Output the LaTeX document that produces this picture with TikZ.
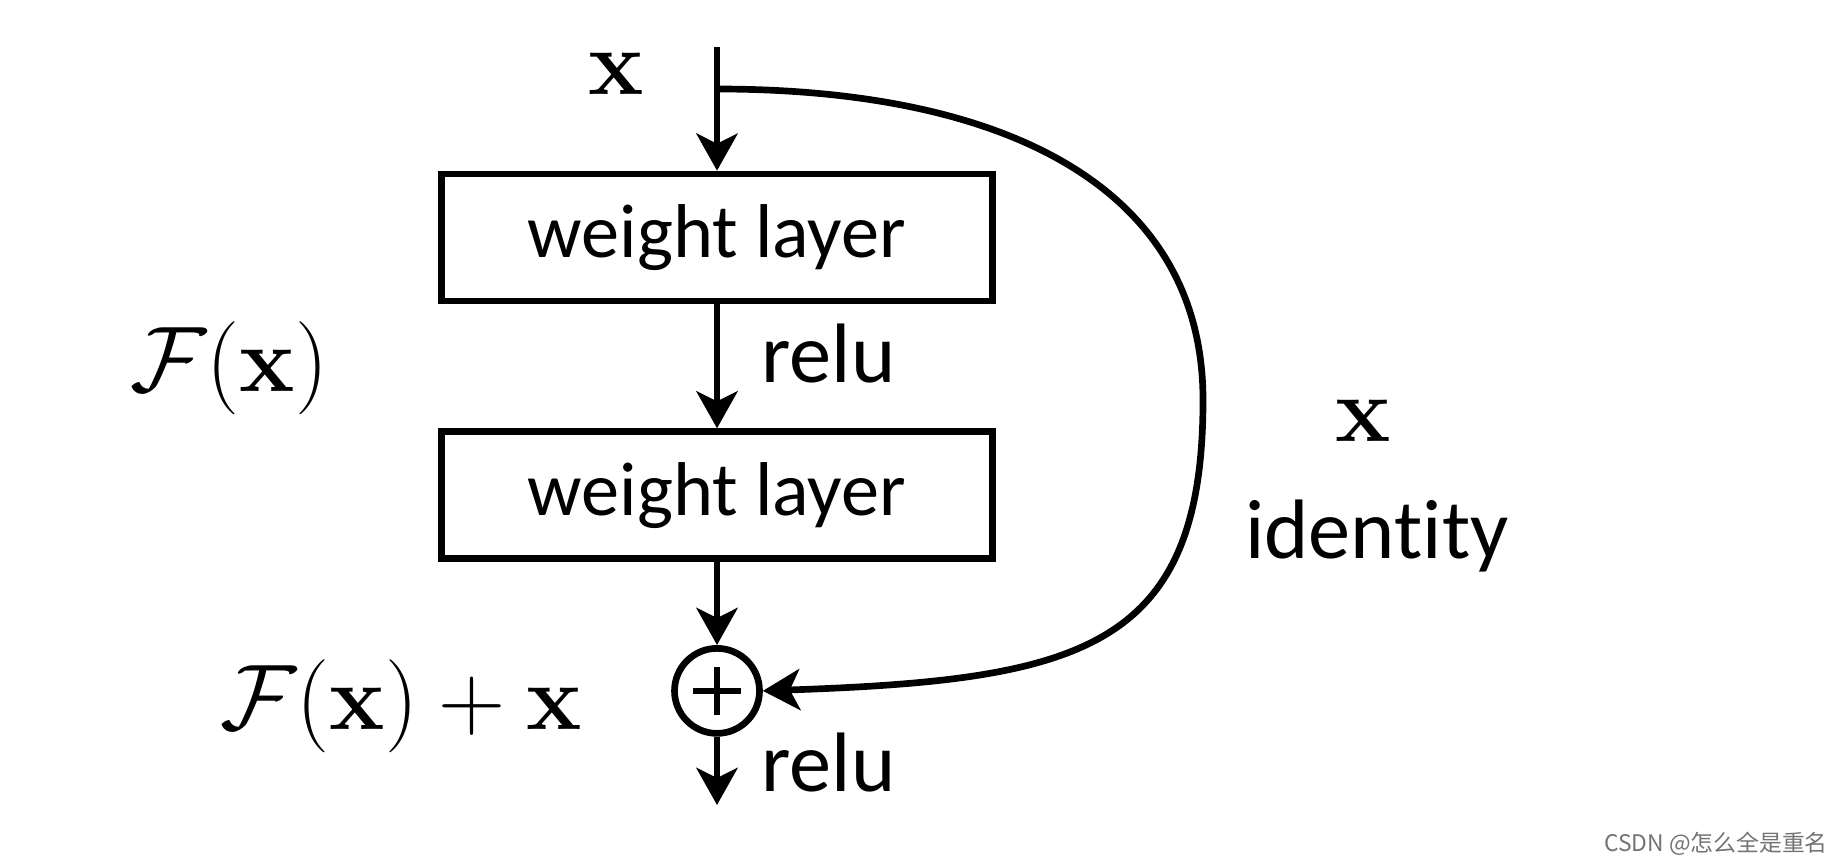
\documentclass[tikz,border=0pt]{standalone}
\usepackage{xcolor}
\usepackage{amsmath}
\usepackage[no-math]{fontspec}
\usepackage{tikz}
\usetikzlibrary{arrows.meta, positioning, calc}
\newfontfamily\calibri[Ligatures=NoCommon]{Carlito}
\newfontfamily\cjk{Noto Sans CJK SC}

\begin{document}
\begin{tikzpicture}[
    line width=1.9pt,
    >={Stealth[length=3.7mm,width=4.1mm,inset=1mm]},
    layer/.style={draw, rectangle, minimum width=5.51cm, minimum height=1.27cm,
                  inner sep=0pt, font=\calibri\fontsize{21.7}{26}\selectfont},
    lbl/.style={font=\calibri\fontsize{24}{28}\selectfont, inner sep=0pt, anchor=base west},
    mathlbl/.style={font=\fontsize{24.88}{30}\selectfont, scale=1.065, inner sep=0pt, anchor=base}
  ]
  \useasboundingbox (0,0) rectangle (18.43,-8.63);

  % 两个权重层
  \node[layer] (wl1) at (7.17,-2.375) {weight layer};
  \node[layer, below=1.24cm of wl1] (wl2) {weight layer};

  % 相加
  \node[draw, circle, minimum size=0.85cm, inner sep=0pt, below=0.83cm of wl2] (plus) {};
  \draw ([xshift=-2.4mm]plus.center) -- ([xshift=2.4mm]plus.center);
  \draw ([yshift=-2.4mm]plus.center) -- ([yshift=2.4mm]plus.center);

  % 主干
  \coordinate (in) at (7.17,-0.47);
  \coordinate (split) at (7.17,-0.89);
  \coordinate (far) at (12.03,-4.0);
  \coordinate (out) at (7.17,-8.05);
  \draw[->] (in) -- (wl1);
  \draw[->] (wl1) -- (wl2);
  \draw[->] (wl2) -- (plus);
  \draw[->] (plus) -- (out);

  % 恒等映射
  \draw[->] (split) .. controls (10.1,-0.89) and (12.03,-1.9) .. (far)
                    .. controls (12.03,-6.5) and (10.8,-6.8) .. (plus.east);

  % 标注
  \node[mathlbl] (xin) at (6.16,-0.94) {$\mathbf{x}$};
  \node[lbl] (relu1) at (7.58,-3.82) {relu};
  \node[lbl] (relu2) at (7.58,-7.91) {relu};
  \node[mathlbl, anchor=base west] (fx) at (1.27,-3.91) {$\mathcal{F}(\mathbf{x})$};
  \node[mathlbl, anchor=base west] (fxx) at (2.17,-7.29) {$\mathcal{F}(\mathbf{x}) + \mathbf{x}$};
  \node[mathlbl] (xid) at (13.63,-4.41) {$\mathbf{x}$};
  \node[lbl] (ident) at (12.42,-5.58) {identity};
  \node[font=\cjk\fontsize{6.5}{8}\selectfont, text=black!55, inner sep=0pt,
        anchor=base east] (mark) at (18.31,-8.51) {CSDN @怎么全是重名};
\end{tikzpicture}
\end{document}
